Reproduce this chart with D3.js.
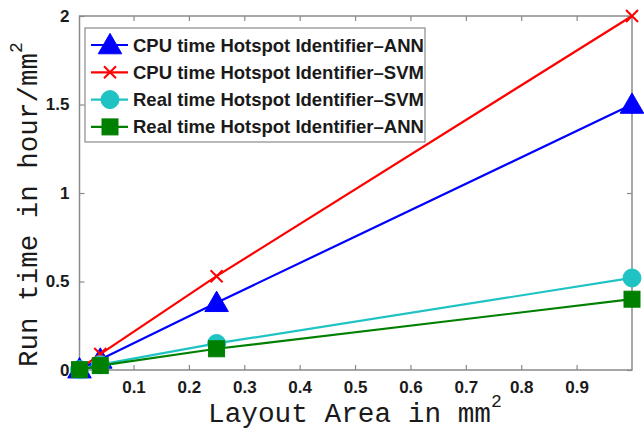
<!DOCTYPE html>
<html lang="en">
<head>
<meta charset="utf-8">
<title>Run time vs layout area</title>
<script src="https://cdn.jsdelivr.net/npm/d3@7"></script>
<style>
  body { margin: 0; background: #fff; }
  text { fill: #1a1a1a; }
</style>
</head>
<body>
<div id="main"></div>
<script>
// layout area (mm^2) and run times (hour/mm^2)
var areas = [0.0025, 0.04, 0.25, 1];
var cpuAnn = [0.005, 0.06, 0.38, 1.5];
var cpuSvm = [0.005, 0.09, 0.53, 2.0];
var realSvm = [0.002, 0.03, 0.15, 0.52];
var realAnn = [0.002, 0.025, 0.12, 0.40];
var seriesNames = [
  "CPU time Hotspot Identifier\u2013ANN",
  "CPU time Hotspot Identifier\u2013SVM",
  "Real time Hotspot Identifier\u2013SVM",
  "Real time Hotspot Identifier\u2013ANN"
];
var xTicks = [0.1, 0.2, 0.3, 0.4, 0.5, 0.6, 0.7, 0.8, 0.9];
var yTicks = [0, 0.5, 1, 1.5, 2];

function createChart() {
  var w = 644, h = 430;
  var mLeft = 79.5, mRight = 632, mTop = 16, mBottom = 370;

  var series = [
    { name: seriesNames[0], values: cpuAnn, color: "#0000ff", marker: "triangle" },
    { name: seriesNames[1], values: cpuSvm, color: "#ff0000", marker: "x" },
    { name: seriesNames[2], values: realSvm, color: "#1fc3c3", marker: "circle" },
    { name: seriesNames[3], values: realAnn, color: "#008000", marker: "square" }
  ];

  var svg = d3.select("#main").append("svg")
    .attr("width", w)
    .attr("height", h);

  var x = d3.scaleLinear().domain([0.0025, 1]).range([mLeft, mRight]);
  var y = d3.scaleLinear().domain([0, 2]).range([mBottom, mTop]);

  var axisColor = "#8a8a8a";

  // box
  svg.append("rect")
    .attr("x", mLeft).attr("y", mTop)
    .attr("width", mRight - mLeft).attr("height", mBottom - mTop)
    .attr("fill", "none").attr("stroke", axisColor).attr("stroke-width", 1.5);

  function styleAxis(g, showText) {
    g.select(".domain").remove();
    g.selectAll(".tick line").attr("stroke", axisColor).attr("stroke-width", 1.2);
    if (!showText) g.selectAll(".tick text").remove();
    g.selectAll(".tick text")
      .attr("fill", "#1a1a1a")
      .style("font-family", "'Liberation Sans', Arial, sans-serif")
      .style("font-weight", "bold")
      .style("font-size", "17px");
  }

  svg.append("g").attr("transform", "translate(0," + mBottom + ")")
    .call(d3.axisBottom(x).tickValues(xTicks).tickSize(-5).tickPadding(11))
    .call(styleAxis, true);
  svg.append("g").attr("transform", "translate(0," + mTop + ")")
    .call(d3.axisTop(x).tickValues(xTicks).tickSize(-5))
    .call(styleAxis, false);
  svg.append("g").attr("transform", "translate(" + mLeft + ",0)")
    .call(d3.axisLeft(y).tickValues(yTicks).tickFormat(d3.format("")).tickSize(-5).tickPadding(10))
    .call(styleAxis, true);
  svg.append("g").attr("transform", "translate(" + mRight + ",0)")
    .call(d3.axisRight(y).tickValues(yTicks).tickSize(-5))
    .call(styleAxis, false);

  // axis titles (Courier-like, slightly widened as in the original)
  var xTitle = svg.append("text")
    .attr("x", 208).attr("y", 422)
    .style("font-family", "'Liberation Mono', 'Courier New', monospace")
    .style("font-size", "27px");
  xTitle.append("tspan")
    .attr("textLength", 283).attr("lengthAdjust", "spacingAndGlyphs")
    .text("Layout Area in mm");
  xTitle.append("tspan").attr("dy", -15).style("font-size", "18px").text("2");

  var yTitle = svg.append("text")
    .attr("transform", "translate(37,367) rotate(-90)")
    .style("font-family", "'Liberation Mono', 'Courier New', monospace")
    .style("font-size", "27px");
  yTitle.append("tspan")
    .attr("textLength", 314).attr("lengthAdjust", "spacingAndGlyphs")
    .text("Run time in hour/mm");
  yTitle.append("tspan").attr("dy", -15).style("font-size", "18px").text("2");

  function drawMarker(g, type, color) {
    if (type === "triangle") {
      g.append("path").attr("d", d3.symbol().type(d3.symbolTriangle).size(240)())
        .attr("transform", "translate(0,2)")
        .attr("fill", color).attr("stroke", color);
    } else if (type === "x") {
      g.append("path").attr("d", "M-6,-6L6,6M-6,6L6,-6")
        .attr("stroke", color).attr("stroke-width", 2).attr("fill", "none");
    } else if (type === "circle") {
      g.append("circle").attr("r", 9).attr("fill", color).attr("stroke", color);
    } else {
      g.append("rect").attr("x", -8).attr("y", -8).attr("width", 16).attr("height", 16)
        .attr("fill", color).attr("stroke", color);
    }
  }

  var line = d3.line()
    .x(function(d, i) { return x(areas[i]); })
    .y(function(d) { return y(d); });

  series.forEach(function(s) {
    var g = svg.append("g");
    g.append("path")
      .attr("d", line(s.values))
      .attr("fill", "none")
      .attr("stroke", s.color)
      .attr("stroke-width", 2.2);
    s.values.forEach(function(v, i) {
      var m = g.append("g").attr("transform", "translate(" + x(areas[i]) + "," + y(v) + ")");
      drawMarker(m, s.marker, s.color);
    });
  });

  // legend
  var legend = svg.append("g");
  legend.append("rect")
    .attr("x", 85).attr("y", 28).attr("width", 340).attr("height", 114)
    .attr("fill", "#fff").attr("stroke", axisColor).attr("stroke-width", 1.2);
  series.forEach(function(s, i) {
    var ly = 45 + i * 27.3;
    var item = legend.append("g").attr("transform", "translate(0," + ly + ")");
    item.append("line").attr("x1", 91).attr("x2", 128)
      .attr("stroke", s.color).attr("stroke-width", 2.2);
    var m = item.append("g").attr("transform", "translate(110,0)");
    drawMarker(m, s.marker, s.color);
    item.append("text")
      .attr("x", 133).attr("y", 6.5)
      .style("font-family", "'Liberation Sans', Arial, sans-serif")
      .style("font-weight", "bold")
      .style("font-size", "18.5px")
      .text(s.name);
  });
}

createChart();
</script>
</body>
</html>
